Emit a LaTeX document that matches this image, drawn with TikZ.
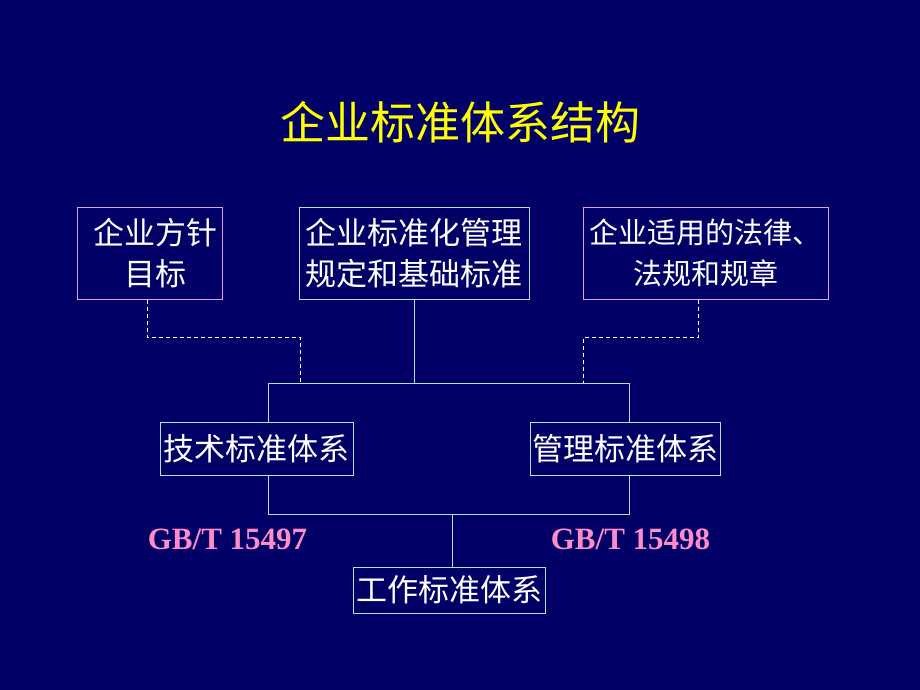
\documentclass[tikz,border=0pt]{standalone}
\usepackage{fontspec}
\newfontfamily\cjk{Noto Sans CJK SC}
\setmainfont{Liberation Serif}
\usepackage{tikz}
\definecolor{bg}{RGB}{0,0,102}
\definecolor{gelb}{RGB}{255,255,0}
\definecolor{rosa}{RGB}{225,160,225}
\definecolor{tuerkis}{RGB}{170,230,230}
\definecolor{gbpink}{RGB}{255,140,200}

\begin{document}
\begin{tikzpicture}[x=1pt,y=-1pt,line width=1pt]
	\tikzstyle{kasten}=[draw,text=white,inner sep=0pt,font=\cjk\fontsize{31}{41}\selectfont,align=center];
	\tikzstyle{aussen}=[kasten,draw=rosa];
	\tikzstyle{innen}=[kasten,draw=tuerkis];
	\tikzstyle{leitung}=[tuerkis];
	\tikzstyle{hilfe}=[white,dash pattern=on 4pt off 3pt];
	\tikzstyle{norm}=[gbpink,font=\bfseries\fontsize{31}{31}\selectfont,inner sep=0pt];
%<--------------------------------------------------------------------------->%

	\fill[bg] (0,0) rectangle (920,690);
	\useasboundingbox (0,0) rectangle (920,690);
	\node[gelb,font=\cjk\fontsize{45}{45}\selectfont] (titel) at (460,122) {企业标准体系结构};
	%% top row
	\node[aussen,minimum width=145,minimum height=92] (ziel) at (149.5,253) {\hspace*{12pt}企业方针\\\hspace*{12pt}目标};
	\node[innen,minimum width=230,minimum height=92] (regel) at (414,253) {企业标准化管理\\规定和基础标准};
	\node[aussen,minimum width=245,minimum height=92,font=\cjk\fontsize{29}{41}\selectfont] (gesetz) at (705.5,253) {企业适用的法律、\\法规和规章};
	%% middle row
	\node[innen,minimum width=193,minimum height=53] (technik) at (256.5,448.5) {技术标准体系};
	\node[innen,minimum width=190,minimum height=53] (verwaltung) at (625,448.5) {管理标准体系};
	\node[innen,minimum width=192,minimum height=46] (arbeit) at (449,590) {工作标准体系};
	\node[norm] (gbl) at (227.5,539) {GB/T 15497};
	\node[norm] (gbr) at (630.5,539) {GB/T 15498};
	%% helper points
	\coordinate (oL) at (268,383);
	\coordinate (oR) at (629,383);
	\coordinate (uL) at (268,514);
	\coordinate (uR) at (629,514);
	\coordinate (uM) at (452,514);
	\coordinate (sL1) at (147,337);
	\coordinate (sL2) at (300,337);
	\coordinate (sR1) at (698,337);
	\coordinate (sR2) at (583,337);
	%% Final
	\draw[leitung] (regel.south) -- (regel.south |- oL);
	\draw[leitung] (technik.north -| oL) -- (oL) -- (oR) -- (verwaltung.north -| oR);
	\draw[leitung] (technik.south -| uL) -- (uL) -- (uR) -- (verwaltung.south -| uR);
	\draw[leitung] (uM) -- (arbeit.north -| uM);
	\draw[hilfe] (ziel.south -| sL1) -- (sL1) -- (sL2) -- (sL2 |- oL);
	\draw[hilfe] (gesetz.south -| sR1) -- (sR1) -- (sR2) -- (sR2 |- oR);
\end{tikzpicture}
\end{document}
